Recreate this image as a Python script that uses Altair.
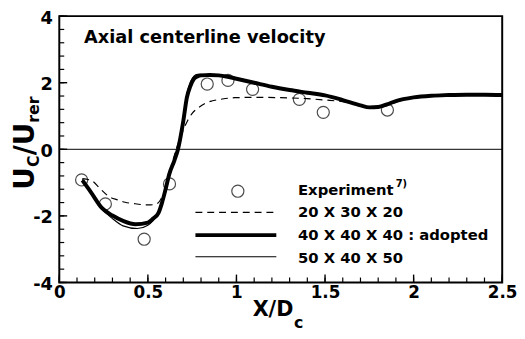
import altair as alt
import pandas as pd

# ---------------- data ----------------
exp_x = [0.126, 0.26, 0.479, 0.622, 0.835, 0.952, 1.091, 1.355, 1.49, 1.852]
exp_y = [-0.92, -1.64, -2.70, -1.04, 1.96, 2.07, 1.80, 1.50, 1.11, 1.18]

g20_x = [0.13, 0.185, 0.23, 0.278, 0.33, 0.371, 0.42, 0.464, 0.50, 0.538, 0.566,
         0.59, 0.61, 0.63, 0.66, 0.69, 0.724, 0.75, 0.786, 0.82, 0.86, 0.92, 0.99,
         1.10, 1.25, 1.40, 1.50, 1.60, 1.70, 1.75, 1.80, 1.85, 1.90, 2.00, 2.10,
         2.20, 2.30, 2.40, 2.50]
g20_y = [-0.88, -0.95, -1.18, -1.41, -1.52, -1.59, -1.63, -1.66, -1.67, -1.66, -1.56,
         -1.30, -0.95, -0.55, 0.00, 0.45, 0.86, 1.08, 1.25, 1.37, 1.45, 1.51, 1.55,
         1.56, 1.55, 1.52, 1.48, 1.43, 1.32, 1.27, 1.28, 1.35, 1.45, 1.56, 1.61,
         1.63, 1.64, 1.64, 1.63]

g40_x = [0.13, 0.18, 0.24, 0.30, 0.36, 0.43, 0.50, 0.53, 0.56, 0.58, 0.60, 0.62,
         0.65, 0.67, 0.70, 0.72, 0.74, 0.76, 0.78, 0.80, 0.85, 0.90, 0.95, 1.00,
         1.10, 1.20, 1.30, 1.40, 1.50, 1.60, 1.70, 1.75, 1.80, 1.85, 1.90, 2.00,
         2.10, 2.20, 2.30, 2.40, 2.50]
g40_y = [-0.93, -1.30, -1.76, -1.99, -2.15, -2.25, -2.20, -2.08, -1.91, -1.60, -1.20,
         -0.76, -0.33, 0.00, 0.85, 1.55, 1.90, 2.12, 2.19, 2.22, 2.23, 2.22, 2.18,
         2.12, 2.00, 1.88, 1.78, 1.70, 1.62, 1.48, 1.32, 1.26, 1.27, 1.35, 1.45,
         1.56, 1.61, 1.63, 1.64, 1.64, 1.63]

g50_x = [0.13, 0.18, 0.24, 0.30, 0.36, 0.44, 0.50, 0.53, 0.56, 0.58, 0.60, 0.62,
         0.65, 0.67, 0.70, 0.72, 0.74, 0.76, 0.78, 0.80, 0.85, 0.90, 0.95, 1.00,
         1.10, 1.20, 1.30, 1.40, 1.50, 1.60, 1.70, 1.75, 1.80, 1.85, 1.90, 2.00,
         2.10, 2.20, 2.30, 2.40, 2.50]
g50_y = [-0.90, -1.32, -1.78, -2.08, -2.30, -2.38, -2.28, -2.14, -1.92, -1.65, -1.30,
         -0.85, -0.30, 0.05, 0.95, 1.65, 2.02, 2.20, 2.25, 2.25, 2.22, 2.21, 2.17,
         2.12, 1.99, 1.87, 1.77, 1.69, 1.62, 1.49, 1.33, 1.25, 1.24, 1.31, 1.42,
         1.56, 1.63, 1.66, 1.67, 1.67, 1.67]

x_major = [0, 0.5, 1, 1.5, 2, 2.5]
x_minor = [round(i * 0.1, 1) for i in range(26)]
y_major = [-4, -2, 0, 2, 4]
y_minor = [round(-4 + i * 0.4, 1) for i in range(21)]

title_text = "Axial centerline velocity"
legend_labels = ["Experiment", "20 X 30 X 20", "40 X 40 X 40 : adopted", "50 X 40 X 50"]

FONT = "DejaVu Sans"
W, H = 449, 270


def df(x, y):
    return pd.DataFrame({"x": x, "y": y})


xs = alt.Scale(domain=[0, 2.5], nice=False, zero=False)
ys = alt.Scale(domain=[-4, 4], nice=False, zero=False)

ax_x = alt.Axis(orient="bottom", values=x_major, labelExpr="toString(datum.value)",
                domain=False, grid=False, ticks=False, labelFont=FONT, labelFontSize=17,
                labelFontWeight="bold", labelColor="black", labelPadding=2,
                labelFlush=False, labelOverlap=False, title=None)
ax_y = alt.Axis(orient="left", values=y_major, labelExpr="toString(datum.value)",
                domain=False, grid=False, ticks=False, labelFont=FONT, labelFontSize=18,
                labelFontWeight="bold", labelColor="black", labelPadding=7,
                labelOffset=2, labelFlush=False, labelOverlap=False, title=None)

# inward ticks, positioned by the scales
xt_major = alt.Chart(pd.DataFrame({"v": x_major})).mark_rule(color="black", strokeWidth=1.4).encode(
    x=alt.X("v:Q", scale=xs, axis=None), y=alt.value(H - 8), y2=alt.value(H))
xt_minor = alt.Chart(pd.DataFrame({"v": x_minor})).mark_rule(color="black", strokeWidth=1.2).encode(
    x=alt.X("v:Q", scale=xs, axis=None), y=alt.value(H - 5), y2=alt.value(H))
yt_major = alt.Chart(pd.DataFrame({"v": y_major})).mark_rule(color="black", strokeWidth=1.4).encode(
    y=alt.Y("v:Q", scale=ys, axis=None), x=alt.value(0), x2=alt.value(8))
yt_minor = alt.Chart(pd.DataFrame({"v": y_minor})).mark_rule(color="black", strokeWidth=1.2).encode(
    y=alt.Y("v:Q", scale=ys, axis=None), x=alt.value(0), x2=alt.value(5))

zero_line = alt.Chart(pd.DataFrame({"y": [0]})).mark_rule(
    color="black", strokeWidth=1).encode(y=alt.Y("y:Q", scale=ys, axis=None))

dashed = alt.Chart(df(g20_x, g20_y)).mark_line(
    color="black", strokeWidth=1.2, strokeDash=[7, 5], interpolate="monotone").encode(
    x=alt.X("x:Q", scale=xs, axis=ax_x),
    y=alt.Y("y:Q", scale=ys, axis=ax_y))

thick = alt.Chart(df(g40_x, g40_y)).mark_line(
    color="black", strokeWidth=4, interpolate="monotone").encode(
    x=alt.X("x:Q", scale=xs, axis=None),
    y=alt.Y("y:Q", scale=ys, axis=None))

thin = alt.Chart(df(g50_x, g50_y)).mark_line(
    color="black", strokeWidth=1.1, interpolate="monotone").encode(
    x=alt.X("x:Q", scale=xs, axis=None),
    y=alt.Y("y:Q", scale=ys, axis=None))

points = alt.Chart(df(exp_x, exp_y)).mark_point(
    shape="circle", size=150, filled=False, color="black", strokeWidth=1.2).encode(
    x=alt.X("x:Q", scale=xs, axis=None),
    y=alt.Y("y:Q", scale=ys, axis=None))

one = pd.DataFrame({"k": [0]})


def label(text, x, y, size, angle=0, align="left", baseline="alphabetic", weight="bold"):
    kw = dict(text=text, font=FONT, fontSize=size, fontWeight=weight, color="black",
              align=align, baseline=baseline)
    if angle:
        kw["angle"] = angle
    return alt.Chart(one).mark_text(**kw).encode(x=alt.value(x), y=alt.value(y))


title = label(title_text, 25, 27, 18)

# legend (drawn inside the plot area)
leg_point = alt.Chart(one).mark_point(
    shape="circle", size=150, filled=False, color="black", strokeWidth=1.2).encode(
    x=alt.value(181), y=alt.value(177.5))
leg_dash = alt.Chart(one).mark_rule(color="black", strokeWidth=1.2, strokeDash=[7, 5]).encode(
    x=alt.value(138), x2=alt.value(220), y=alt.value(199))
leg_thick = alt.Chart(one).mark_rule(color="black", strokeWidth=4).encode(
    x=alt.value(138), x2=alt.value(220), y=alt.value(222))
leg_thin = alt.Chart(one).mark_rule(color="black", strokeWidth=1.1).encode(
    x=alt.value(138), x2=alt.value(220), y=alt.value(244))
leg_texts = [
    label(legend_labels[0], 242, 176, 15, baseline="middle"),
    label("7)", 341, 170, 10, baseline="middle"),
    label(legend_labels[1], 242, 199, 15, baseline="middle"),
    label(legend_labels[2], 242, 222, 15, baseline="middle"),
    label(legend_labels[3], 242, 245, 15, baseline="middle"),
]

# axis titles with subscripts
x_title = [label("X/D", 196, 304, 21), label("c", 238, 316, 16)]
y_title = [
    label("U", -26, 176, 28, angle=270),
    label("C", -21, 153, 16, angle=270),
    label("/U", -26, 141, 28, angle=270),
    label("rer", -21, 108, 16, angle=270),
]

chart = alt.layer(
    dashed, zero_line, xt_major, xt_minor, yt_major, yt_minor, thick, thin, points, title,
    leg_point, leg_dash, leg_thick, leg_thin, *leg_texts, *x_title, *y_title
).resolve_axis(x="independent", y="independent").properties(
    width=W, height=H,
    padding={"left": 52, "top": 6, "right": 15, "bottom": 50},
    autosize="none",
    background="white",
).configure_view(stroke="black", strokeWidth=2)

chart.save("out.html", embed_options={"renderer": "svg", "actions": False})
